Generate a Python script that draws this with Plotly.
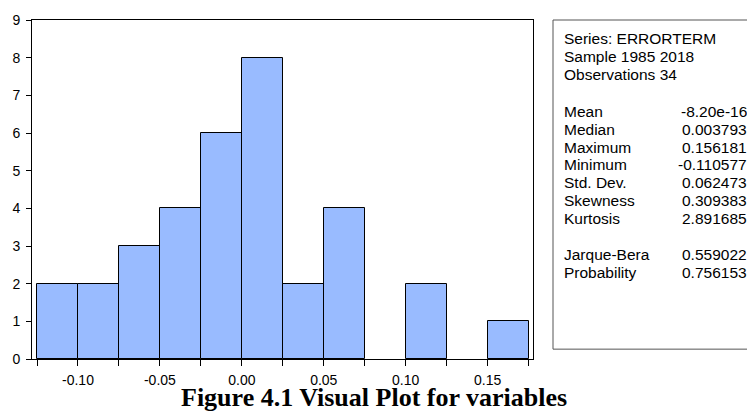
import plotly.graph_objects as go

bin_left = [-0.125, -0.100, -0.075, -0.050, -0.025, 0.000, 0.025, 0.050, 0.075, 0.100, 0.125, 0.150]
counts = [2, 2, 3, 4, 6, 8, 2, 4, 0, 2, 0, 1]
bin_width = 0.025
x_tick_vals = [-0.125, -0.100, -0.075, -0.050, -0.025, 0.000, 0.025, 0.050, 0.075, 0.100, 0.125, 0.150, 0.175]
x_tick_text = ["", "-0.10", "", "-0.05", "", "0.00", "", "0.05", "", "0.10", "", "0.15", ""]

header_lines = ["Series: ERRORTERM", "Sample 1985 2018", "Observations 34"]
stat_names = ["Mean", "Median", "Maximum", "Minimum", "Std. Dev.", "Skewness", "Kurtosis"]
stat_values = ["-8.20e-16", "0.003793", "0.156181", "-0.110577", "0.062473", "0.309383", "2.891685"]
test_names = ["Jarque-Bera", "Probability"]
test_values = ["0.559022", "0.756153"]

caption = "Figure 4.1 Visual Plot for variables"

W, H = 747, 412
L, R, T, B = 32, 214, 15, 53

fig = go.Figure()
fig.add_trace(go.Bar(
    x=[b + bin_width / 2 for b in bin_left],
    y=counts,
    width=bin_width,
    marker=dict(color="#99BBFF",
                line=dict(color="black", width=[1 if c > 0 else 0 for c in counts])),
    hoverinfo="x+y",
))

def px_x(p):
    return (p - L) / (W - L - R)

def px_y(p):
    return 1 - (p - T) / (H - T - B)

font_sans = "Liberation Sans, Arial, sans-serif"
FS = 15.5
annotations = []

def add_text(txt, x, y, anchor):
    annotations.append(dict(text=txt, x=px_x(x), y=px_y(y), xref="paper", yref="paper",
                            xanchor=anchor, yanchor="middle", showarrow=False,
                            font=dict(family=font_sans, size=FS, color="black")))

line_ys = [34, 52, 70]
for txt, yy in zip(header_lines, line_ys):
    add_text(txt, 562, yy, "left")
stat_ys = [108, 126, 144, 162, 180, 198, 216]
for name, val, yy in zip(stat_names, stat_values, stat_ys):
    add_text(name, 562, yy, "left")
    add_text(val, 749, yy, "right")
test_ys = [253, 271]
for name, val, yy in zip(test_names, test_values, test_ys):
    add_text(name, 562, yy, "left")
    add_text(val, 749, yy, "right")

annotations.append(dict(text="<b>" + caption + "</b>", x=px_x(374), y=px_y(398), xref="paper", yref="paper",
                        xanchor="center", yanchor="middle", showarrow=False,
                        font=dict(family="Liberation Serif, Times New Roman, serif", size=26, color="black")))

fig.update_layout(
    width=W, height=H,
    margin=dict(l=L, r=R, t=T, b=B, pad=0),
    paper_bgcolor="white", plot_bgcolor="white",
    showlegend=False,
    bargap=0,
    annotations=annotations,
    shapes=[dict(type="rect", xref="paper", yref="paper",
                 x0=px_x(553), x1=px_x(770), y0=px_y(349), y1=px_y(15),
                 line=dict(color="#555555", width=1), fillcolor="rgba(0,0,0,0)")],
    xaxis=dict(range=[-0.12805, 0.17769], tickvals=x_tick_vals, ticktext=x_tick_text,
               ticks="outside", ticklen=6, tickcolor="black", tickwidth=1,
               ticklabelstandoff=2,
               showline=True, linecolor="black", linewidth=1, mirror=True,
               showgrid=False, zeroline=False,
               tickfont=dict(family=font_sans, size=14, color="black")),
    yaxis=dict(range=[0, 9], tickvals=list(range(10)),
               ticks="outside", ticklen=5, tickcolor="black", tickwidth=1,
               ticklabelstandoff=3,
               showline=True, linecolor="black", linewidth=1, mirror=True,
               showgrid=False, zeroline=False,
               tickfont=dict(family=font_sans, size=14, color="black")),
)

fig.write_html("out.html", config={"displayModeBar": False},
               post_script="document.body.style.margin='0';document.body.style.padding='0';")
